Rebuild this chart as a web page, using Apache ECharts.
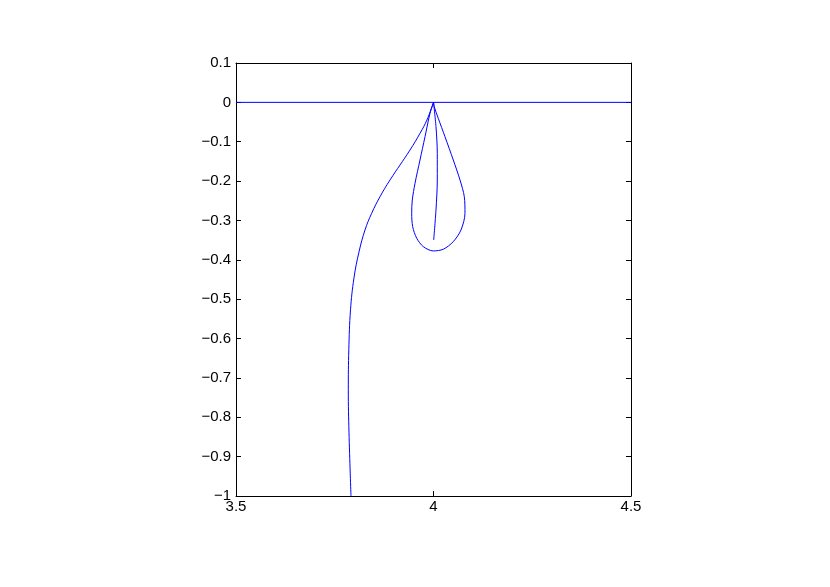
<!DOCTYPE html>
<html>
<head>
<meta charset="utf-8">
<script src="https://cdn.jsdelivr.net/npm/echarts@6/dist/echarts.min.js"></script>
<style>
html, body { margin: 0; padding: 0; background: #fff; }
#chart { width: 830px; height: 587px; }
</style>
</head>
<body>
<div id="chart"></div>
<script>
// horizontal line y = 0
var baseLine = [[3.5, 0], [4.5, 0]];
// tail from the tip down to y = -1
var tail = [
	[4.0, 0], [3.9833, -0.0449], [3.9658, -0.0787], [3.9405, -0.1211],
	[3.8899, -0.1972], [3.8646, -0.2396], [3.8435, -0.2817], [3.8266, -0.3241],
	[3.8114, -0.3799], [3.7987, -0.4459], [3.7899, -0.5271], [3.7856, -0.6287],
	[3.7843, -0.7302], [3.7861, -0.8393], [3.7911, -1.0]
];
// closed loop under the tip
var loop = [
	[4.0, 0], [3.9911, -0.0279], [3.9785, -0.0873], [3.9658, -0.1464], [3.9532, -0.2056],
	[3.9463, -0.248], [3.9448, -0.2817], [3.9473, -0.3157], [3.9575, -0.3452],
	[3.9742, -0.3665], [3.9995, -0.3774], [4.0248, -0.3731], [4.0501, -0.3538],
	[4.0696, -0.3241], [4.0797, -0.2817], [4.078, -0.2396], [4.0671, -0.1972],
	[4.0501, -0.1464], [4.0291, -0.0873], [4.0121, -0.0406], [4.002, -0.0112], [4.0, 0]
];
// strand inside the loop
var strand = [[4.0, 0], [4.0063, -0.0619], [4.0096, -0.1294], [4.0096, -0.1972], [4.0063, -0.2733], [4.0005, -0.3495]];

var fmt = function (v) { return String(+v.toFixed(2)).replace('-', '\u2212'); };

var axisCommon = {
	axisLine: { show: true, onZero: false, lineStyle: { color: '#000', width: 1 } },
	axisTick: { show: true, inside: true, length: 5, lineStyle: { color: '#000' } },
	splitLine: { show: false }
};

var chart = echarts.init(document.getElementById('chart'));
var lineStyle = { color: '#0000ff', width: 1 };
function mk(data, smooth) {
	return {
		type: 'line', data: data, smooth: smooth, showSymbol: false,
		lineStyle: lineStyle, animation: false
	};
}
chart.setOption({
	backgroundColor: '#fff',
	grid: { left: 236, right: 199, top: 63, bottom: 91 },
	xAxis: [
		Object.assign({
			type: 'value', min: 3.5, max: 4.5, interval: 0.5, position: 'bottom',
			axisLabel: { color: '#000', fontSize: 15, fontFamily: 'Liberation Sans', margin: 3, formatter: fmt }
		}, axisCommon),
		Object.assign({
			type: 'value', min: 3.5, max: 4.5, interval: 0.5, position: 'top',
			axisLabel: { show: false }
		}, axisCommon)
	],
	yAxis: [
		Object.assign({
			type: 'value', min: -1, max: 0.1, interval: 0.1, position: 'left',
			axisLabel: { color: '#000', fontSize: 15, fontFamily: 'Liberation Sans', margin: 5, formatter: fmt }
		}, axisCommon),
		Object.assign({
			type: 'value', min: -1, max: 0.1, interval: 0.1, position: 'right',
			axisLabel: { show: false }
		}, axisCommon)
	],
	series: [
		mk(baseLine, false),
		mk(tail, 0.4),
		mk(loop, 0.3),
		mk(strand, 0.3)
	]
});
</script>
</body>
</html>
